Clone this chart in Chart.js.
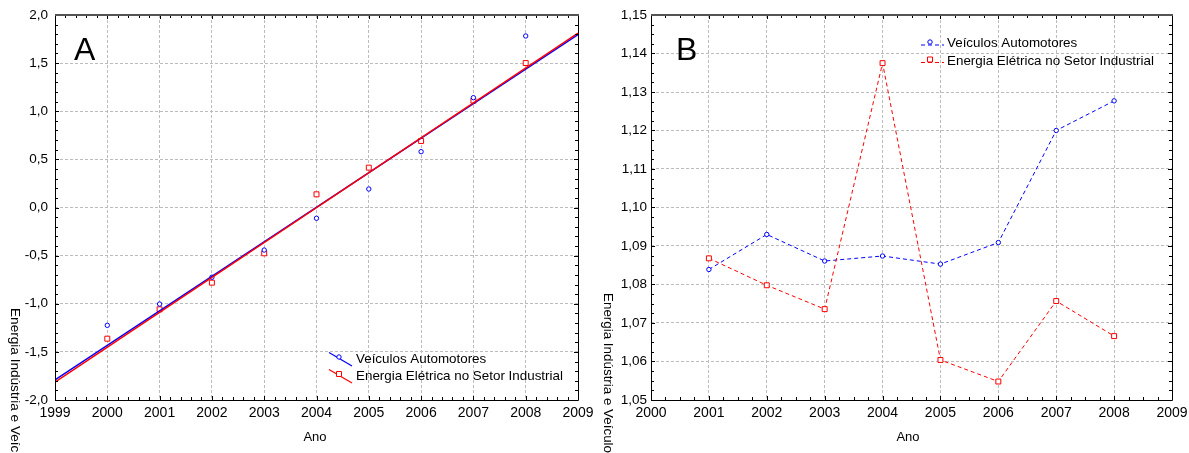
<!DOCTYPE html>
<html>
<head>
<meta charset="utf-8">
<script src="https://cdn.jsdelivr.net/npm/chart.js@4"></script>
<style>
  html, body { margin: 0; padding: 0; background: #fff; }
  #wrap { position: relative; width: 1189px; height: 453px; overflow: hidden; }
  canvas { position: absolute; top: 0; }
  #chartA { left: 0; width: 595px; height: 453px; }
  #chartB { left: 595px; width: 594px; height: 453px; }
</style>
</head>
<body>
<div id="wrap">
  <canvas id="chartA" width="595" height="453"></canvas>
  <canvas id="chartB" width="594" height="453"></canvas>
</div>
<script>
// ---- Panel A: standardized series with linear fits ----
const yearsA = [2000, 2001, 2002, 2003, 2004, 2005, 2006, 2007, 2008];
const veiculosA = [-1.224, -1.003, -0.725, -0.442, -0.112, 0.192, 0.580, 1.141, 1.782];
const energiaA  = [-1.363, -1.058, -0.781, -0.476, 0.137, 0.414, 0.691, 1.110, 1.501];
const fitYearsA = [1999, 2009];
const fitVeiculosA = [-1.790, 1.797];
const fitEnergiaA  = [-1.815, 1.811];
const yTicksA = [-2.0, -1.5, -1.0, -0.5, 0.0, 0.5, 1.0, 1.5, 2.0];

// ---- Panel B: yearly ratios ----
const yearsB = [2001, 2002, 2003, 2004, 2005, 2006, 2007, 2008];
const veiculosB = [1.0839, 1.0930, 1.0861, 1.0874, 1.0853, 1.0909, 1.1200, 1.1277];
const energiaB  = [1.0868, 1.0798, 1.0736, 1.1375, 1.0604, 1.0548, 1.0757, 1.0666];
const yTicksB = [1.05, 1.06, 1.07, 1.08, 1.09, 1.10, 1.11, 1.12, 1.13, 1.14, 1.15];

const labelVeiculos = 'Veículos Automotores';
const labelEnergia = 'Energia Elétrica no Setor Industrial';
const yTitle = 'Energia Indústria e Veículos';
const xTitle = 'Ano';

const FONT = '"Liberation Sans", Arial, Helvetica, sans-serif';
const BLUE = '#0000ff';
const RED = '#ff0000';
const GRID = '#bcbcbc';

const pts = (xs, ys) => xs.map((x, i) => ({ x, y: ys[i] }));
const comma = (v, d) => Number(v).toFixed(d).replace('.', ',');

// Box around the plot area with small inward ticks on every side
function drawFrame(chart, xDiv, yDiv) {
  const { ctx, chartArea: a, scales: { x, y } } = chart;
  ctx.save();
  ctx.strokeStyle = '#000';
  ctx.lineWidth = 1;
  const xStep = x.options.ticks.stepSize / xDiv;
  const yStep = y.options.ticks.stepSize / yDiv;
  ctx.beginPath();
  const nx = Math.round((x.max - x.min) / xStep);
  for (let i = 0; i <= nx; i++) {
    const px = Math.round(x.getPixelForValue(x.min + i * xStep)) + 0.5;
    const len = i % xDiv === 0 ? 4 : 3;
    ctx.moveTo(px, a.bottom); ctx.lineTo(px, a.bottom - len);
    ctx.moveTo(px, a.top); ctx.lineTo(px, a.top + len);
  }
  const ny = Math.round((y.max - y.min) / yStep);
  for (let i = 0; i <= ny; i++) {
    const py = Math.round(y.getPixelForValue(y.min + i * yStep)) + 0.5;
    const len = i % yDiv === 0 ? 4 : 3;
    ctx.moveTo(a.left, py); ctx.lineTo(a.left + len, py);
    ctx.moveTo(a.right, py); ctx.lineTo(a.right - len, py);
  }
  ctx.stroke();
  ctx.beginPath();
  ctx.moveTo(Math.round(a.left) + 0.5, a.top);
  ctx.lineTo(Math.round(a.left) + 0.5, Math.round(a.bottom) + 0.5);
  ctx.lineTo(Math.round(a.right) + 0.5, Math.round(a.bottom) + 0.5);
  ctx.lineTo(Math.round(a.right) + 0.5, a.top);
  ctx.stroke();
  ctx.strokeStyle = '#555';
  ctx.lineWidth = 2;
  ctx.beginPath();
  ctx.moveTo(a.left, Math.round(a.top));
  ctx.lineTo(a.right + 1, Math.round(a.top));
  ctx.stroke();
  ctx.restore();
}

function drawTitles(chart, o) {
  const { ctx } = chart;
  ctx.save();
  ctx.fillStyle = '#000';
  ctx.font = '32px ' + FONT;
  ctx.textBaseline = 'alphabetic';
  ctx.textAlign = 'left';
  ctx.fillText(o.letter, o.letterX, 60);
  ctx.font = '13px ' + FONT;
  ctx.textAlign = 'center';
  ctx.textBaseline = 'middle';
  ctx.fillText(xTitle, o.xTitleX, 437);
  ctx.font = o.yTitleSize + 'px ' + FONT;
  ctx.translate(o.yTitleX, o.yTitleY);
  ctx.rotate(Math.PI / 2);
  ctx.textAlign = 'left';
  ctx.fillText(yTitle, 0, 0);
  ctx.restore();
}

function marker(ctx, style, color, cx, cy) {
  ctx.save();
  ctx.strokeStyle = color;
  ctx.lineWidth = 1;
  ctx.setLineDash([]);
  ctx.beginPath();
  if (style === 'circle') ctx.arc(cx, cy, 2.2, 0, Math.PI * 2);
  else ctx.rect(cx - 2.5, cy - 2.5, 5, 5);
  ctx.fillStyle = '#fff';
  ctx.fill();
  ctx.stroke();
  ctx.restore();
}

const panelA = {
  id: 'panelA',
  afterDraw(chart) {
    drawFrame(chart, 5, 5);
    drawTitles(chart, { letter: 'A', letterX: 74, xTitleX: 315, yTitleX: 15, yTitleY: 308, yTitleSize: 13.6 });
    const { ctx } = chart;
    const items = [
      { label: chart.data.datasets[0].label, color: BLUE, style: 'circle', y: 359 },
      { label: chart.data.datasets[1].label, color: RED, style: 'rect', y: 376 }
    ];
    ctx.save();
    ctx.font = '13.4px ' + FONT;
    ctx.textBaseline = 'middle';
    items.forEach(it => {
      ctx.strokeStyle = it.color;
      ctx.lineWidth = 1.2;
      ctx.beginPath();
      ctx.moveTo(329, it.y - 6.5);
      ctx.lineTo(352, it.y + 7);
      ctx.stroke();
      marker(ctx, it.style, it.color, 339, it.y - 2);
      ctx.fillStyle = '#000';
      ctx.fillText(it.label, 356, it.y);
    });
    ctx.restore();
  }
};

const panelB = {
  id: 'panelB',
  afterDraw(chart) {
    drawFrame(chart, 4, 4);
    drawTitles(chart, { letter: 'B', letterX: 81, xTitleX: 313, yTitleX: 13, yTitleY: 293, yTitleSize: 13.4 });
    const { ctx } = chart;
    const items = [
      { label: chart.data.datasets[0].label, color: BLUE, style: 'circle', y: 43.5 },
      { label: chart.data.datasets[1].label, color: RED, style: 'rect', y: 61 }
    ];
    ctx.save();
    ctx.font = '13.4px ' + FONT;
    ctx.textBaseline = 'middle';
    items.forEach(it => {
      ctx.strokeStyle = it.color;
      ctx.lineWidth = 1;
      ctx.setLineDash([4, 3]);
      ctx.beginPath();
      ctx.moveTo(326, it.y + 1.5);
      ctx.lineTo(349, it.y + 1.5);
      ctx.stroke();
      marker(ctx, it.style, it.color, 335, it.y - 1.5);
      ctx.fillStyle = '#000';
      ctx.fillText(it.label, 352, it.y);
    });
    ctx.restore();
  }
};

function axes(xMin, xMax, yMin, yMax, yStep, yDec, yWidth, yPad, yTickValues) {
  return {
    x: {
      type: 'linear', min: xMin, max: xMax,
      afterFit(s) { s.height = 53; s.paddingLeft = 0; s.paddingRight = 0; },
      ticks: { stepSize: 1, color: '#000', padding: 5, font: { family: FONT, size: 14 },
               callback: v => String(v) },
      grid: { color: GRID, lineWidth: 1, drawTicks: false },
      border: { display: false, dash: [3, 2] }
    },
    y: {
      type: 'linear', min: yMin, max: yMax,
      afterFit(s) { s.width = yWidth; s.paddingTop = 0; s.paddingBottom = 0; },
      afterBuildTicks(s) { s.ticks = yTickValues.map(v => ({ value: v })); },
      ticks: { stepSize: yStep, color: '#000', padding: yPad, font: { family: FONT, size: 13.5 },
               callback: v => comma(v, yDec) },
      grid: { color: GRID, lineWidth: 1, drawTicks: false },
      border: { display: false, dash: [3, 2] }
    }
  };
}

const scalesA = axes(1999, 2009, -2, 2, 0.5, 1, 55, 7, yTicksA);
const scalesB = axes(2000, 2009, 1.05, 1.15, 0.01, 2, 56, 4, yTicksB);

const common = {
  responsive: false,
  animation: false,
  events: [],
  plugins: { legend: { display: false }, tooltip: { enabled: false } }
};

new Chart(document.getElementById('chartA'), {
  type: 'scatter',
  data: {
    datasets: [
      { label: labelVeiculos, data: pts(yearsA, veiculosA), showLine: false,
        pointStyle: 'circle', pointRadius: 2.2, borderColor: BLUE, backgroundColor: '#fff', borderWidth: 1, order: 3 },
      { label: labelEnergia, data: pts(yearsA, energiaA), showLine: false,
        pointStyle: 'rect', pointRadius: 3.5, borderColor: RED, backgroundColor: '#fff', borderWidth: 1, order: 4 },
      { label: 'fit-v', data: pts(fitYearsA, fitVeiculosA), showLine: true, pointRadius: 0,
        borderColor: BLUE, borderWidth: 1.5, order: 2 },
      { label: 'fit-e', data: pts(fitYearsA, fitEnergiaA), showLine: true, pointRadius: 0,
        borderColor: RED, borderWidth: 1.5, order: 1 }
    ]
  },
  options: Object.assign({}, common, {
    layout: { padding: { top: 15, right: 17, left: 0, bottom: 0 } },
    scales: scalesA
  }),
  plugins: [panelA]
});

new Chart(document.getElementById('chartB'), {
  type: 'scatter',
  data: {
    datasets: [
      { label: labelVeiculos, data: pts(yearsB, veiculosB), showLine: true, borderDash: [4, 3],
        pointStyle: 'circle', pointRadius: 2.2, borderColor: BLUE, pointBorderColor: BLUE,
        pointBackgroundColor: '#fff', borderWidth: 1, pointBorderWidth: 1, order: 2 },
      { label: labelEnergia, data: pts(yearsB, energiaB), showLine: true, borderDash: [4, 3],
        pointStyle: 'rect', pointRadius: 3.5, borderColor: RED, pointBorderColor: RED,
        pointBackgroundColor: '#fff', borderWidth: 1, pointBorderWidth: 1, order: 1 }
    ]
  },
  options: Object.assign({}, common, {
    layout: { padding: { top: 15, right: 17, left: 0, bottom: 0 } },
    scales: scalesB
  }),
  plugins: [panelB]
});
</script>
</body>
</html>
